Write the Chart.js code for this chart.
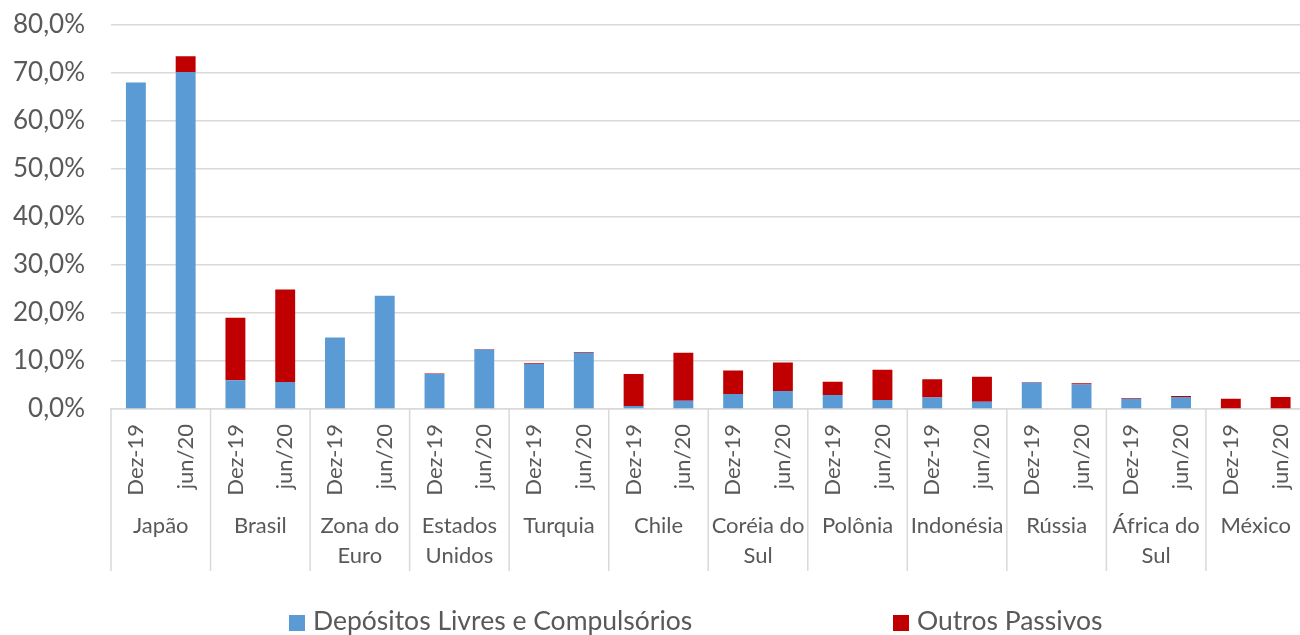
<!DOCTYPE html>
<html lang="pt-BR">
<head>
<meta charset="utf-8">
<title>Depósitos e outros passivos</title>
<script src="https://cdn.jsdelivr.net/npm/chart.js@4"></script>
<style>
  html, body { margin: 0; padding: 0; background: #fff; overflow: hidden; }
  #wrap { position: relative; width: 1322px; height: 635px; }
  #legenda { position: absolute; left: 0; top: 604px; width: 1300px; height: 32px;
             font-family: Lato, "Open Sans", sans-serif; font-size: 26.5px; color: #595959; }
  .item { position: absolute; top: 0; white-space: nowrap; line-height: 32px; }
  .item span.box { display: inline-block; width: 16px; height: 16px; margin-right: 8px; vertical-align: -1px; }
</style>
</head>
<body>
<div id="wrap">
  <canvas id="grafico" width="1322" height="635"></canvas>
  <div id="legenda"></div>
</div>
<script>
// Dados (% )
const paises = ['Japão', 'Brasil', ['Zona do', 'Euro'], ['Estados', 'Unidos'], 'Turquia', 'Chile',
  ['Coréia do', 'Sul'], 'Polônia', 'Indonésia', 'Rússia', ['África do', 'Sul'], 'México'];
const periodos = ['Dez-19', 'jun/20'];

const depositos = [68.0, 70.2, 6.0, 5.6, 14.9, 23.6, 7.3, 12.4, 9.4, 11.7, 0.6, 1.7,
  3.1, 3.75, 2.9, 1.9, 2.4, 1.5, 5.5, 5.1, 2.15, 2.5, 0, 0];
const outros = [0, 3.3, 13.0, 19.3, 0, 0, 0.1, 0.1, 0.15, 0.2, 6.7, 10.0,
  4.9, 5.95, 2.8, 6.3, 3.8, 5.2, 0.1, 0.25, 0.15, 0.2, 2.15, 2.5];

const yTicks = [0, 10, 20, 30, 40, 50, 60, 70, 80];

const corTexto = '#595959';
const corGrade = '#d9d9d9';
const fonte = 'Lato, "Open Sans", sans-serif';

// um rótulo por barra: período dentro de cada país
const rotulos = [];
paises.forEach(() => periodos.forEach(p => rotulos.push(p)));

// desenha os nomes dos países e as linhas separadoras sob o eixo x
const gruposPlugin = {
  id: 'grupos',
  afterDraw(chart) {
    const ctx = chart.ctx;
    const x = chart.scales.x;
    const base = chart.chartArea.bottom;
    const passo = x.getPixelForValue(1) - x.getPixelForValue(0);
    ctx.save();
    ctx.strokeStyle = corGrade;
    ctx.lineWidth = 1.5;
    for (let i = 0; i <= paises.length; i++) {
      const px = x.getPixelForValue(i * periodos.length) - passo / 2;
      ctx.beginPath();
      ctx.moveTo(px, base);
      ctx.lineTo(px, 571);
      ctx.stroke();
    }
    ctx.fillStyle = corTexto;
    ctx.font = '22px ' + fonte;
    ctx.textAlign = 'center';
    ctx.textBaseline = 'middle';
    paises.forEach((nome, i) => {
      const cx = (x.getPixelForValue(i * 2) + x.getPixelForValue(i * 2 + 1)) / 2;
      const linhas = Array.isArray(nome) ? nome : [nome];
      linhas.forEach((l, j) => ctx.fillText(l, cx, 526 + j * 30));
    });
    ctx.restore();
  }
};

const ctx = document.getElementById('grafico').getContext('2d');
const grafico = new Chart(ctx, {
  type: 'bar',
  data: {
    labels: rotulos,
    datasets: [{
      label: 'Depósitos Livres e Compulsórios',
      data: depositos,
      backgroundColor: '#5b9bd5',
      barPercentage: 0.8,
      categoryPercentage: 0.5
    }, {
      label: 'Outros Passivos',
      data: outros,
      backgroundColor: '#c00000',
      barPercentage: 0.8,
      categoryPercentage: 0.5
    }]
  },
  options: {
    responsive: false,
    animation: false,
    layout: { padding: { top: 25, right: 0, left: 0, bottom: 0 } },
    plugins: {
      legend: { display: false },
      tooltip: { enabled: false }
    },
    scales: {
      x: {
        stacked: true,
        grid: { display: false, drawTicks: false },
        border: { color: corGrade, width: 1.5 },
        ticks: {
          autoSkip: false,
          minRotation: 90,
          maxRotation: 90,
          padding: 15,
          color: corTexto,
          font: { family: fonte, size: 22 }
        },
        afterFit(scale) { scale.height = 226; }
      },
      y: {
        stacked: true,
        min: 0,
        max: 80,
        afterBuildTicks(scale) { scale.ticks = yTicks.map(v => ({ value: v })); },
        grid: { color: corGrade, lineWidth: 1.5, drawTicks: true, tickLength: 24, tickColor: 'rgba(0,0,0,0)' },
        border: { display: false },
        ticks: {
          padding: 2,
          color: corTexto,
          font: { family: fonte, size: 26 },
          callback: v => v.toFixed(1).replace('.', ',') + '%'
        },
        afterFit(scale) { scale.width = 111; }
      }
    }
  },
  plugins: [gruposPlugin]
});

// legenda em HTML, a partir dos datasets
const posicoes = [289, 893];
const leg = document.getElementById('legenda');
grafico.data.datasets.forEach((ds, i) => {
  const item = document.createElement('div');
  item.className = 'item';
  item.style.left = posicoes[i] + 'px';
  item.innerHTML = '<span class="box" style="background:' + ds.backgroundColor + '"></span>' + ds.label;
  leg.appendChild(item);
});
</script>
</body>
</html>
